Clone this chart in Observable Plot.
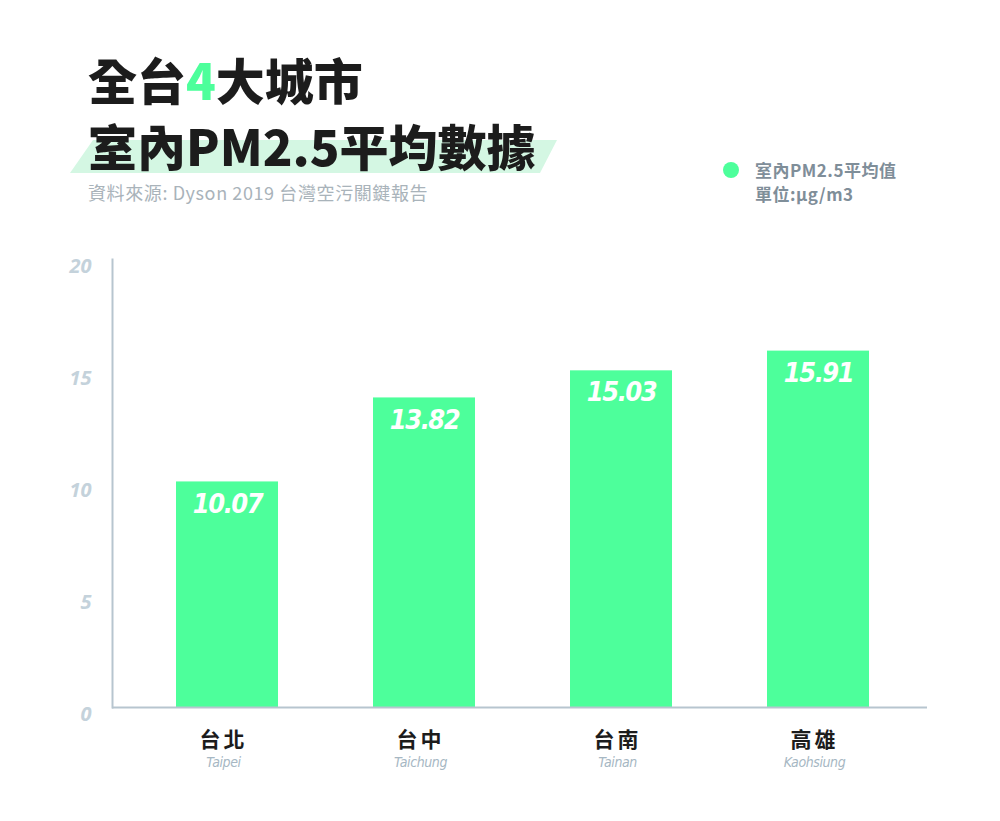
<!DOCTYPE html>
<html>
<head>
<meta charset="utf-8">
<script src="https://cdn.jsdelivr.net/npm/d3@7"></script>
<script src="https://cdn.jsdelivr.net/npm/@observablehq/plot@0.6"></script>
<style>
  html, body { margin: 0; padding: 0; background: #ffffff; }
  #page { position: relative; width: 1000px; height: 821px; overflow: hidden; background: #fff; }
  #header { position: relative; width: 1000px; height: 230px; }
  .cjk { font-family: "Noto Sans CJK TC", "Noto Sans CJK SC", "Noto Sans", sans-serif; }
  .t1, .t2 { position: absolute; left: 88px; font-size: 49px; font-weight: 900; color: #1c1c1c; line-height: 49px; white-space: nowrap; }
  .t1 { top: 54px; }
  .t2 { top: 120px; }
  .green { color: #4dff9b; }
  .sub { position: absolute; left: 88px; top: 181px; font-size: 18px; letter-spacing: 0.6px; line-height: 22px; color: #a9b3ba; white-space: nowrap; }
  .legdot { position: absolute; left: 723px; top: 162px; width: 16px; height: 16px; border-radius: 50%; background: #4dff9b; }
  .leg { position: absolute; left: 755px; font-size: 17px; font-weight: 700; letter-spacing: 0.5px; color: #7f8e99; line-height: 20px; white-space: nowrap; }
  #band { position: absolute; left: 0; top: 0; }
  #chart { position: absolute; left: 0; top: 230px; }
  #chart g[font-size="27"] text { letter-spacing: -1.5px; }
  #chart g[font-size="21"] text { letter-spacing: 3px; }
  #chart g[font-size="14"] text { letter-spacing: -0.4px; }
</style>
</head>
<body>
<div id="page">
  <div id="header" class="cjk">
    <svg id="band" width="1000" height="230"><polygon points="93,140 557,140 540,173 70,173" fill="#d4f7e3"></polygon></svg>
    <div class="t1">全台<span class="green">4</span>大城市</div>
    <div class="t2">室內PM2.5平均數據</div>
    <div class="sub">資料來源: Dyson 2019 台灣空污關鍵報告</div>
    <div class="legdot"></div>
    <div class="leg" style="top:160px">室內PM2.5平均值</div>
    <div class="leg" style="top:184px">單位:µg/m3</div>
  </div>
  <div id="chart"></div>
</div>
<script>
const cities = ["台北", "台中", "台南", "高雄"];
const citiesEn = ["Taipei", "Taichung", "Tainan", "Kaohsiung"];
const values = [10.07, 13.82, 15.03, 15.91];
const yTicks = [0, 5, 10, 15, 20];

const data = cities.map((c, i) => ({city: c, en: citiesEn[i], value: values[i]}));

const numFont = '"Liberation Sans Narrow", "DejaVu Sans Condensed", "Roboto", sans-serif';
const cjkFont = '"Noto Sans CJK TC", "Noto Sans CJK SC", sans-serif';
const axisColor = "#b7c5cf";

const plot = Plot.plot({
  width: 1000,
  height: 591,
  marginLeft: 112,
  marginRight: 73,
  marginTop: 29,
  marginBottom: 114,
  style: {background: "transparent", overflow: "visible"},
  x: {domain: cities, paddingInner: 0.48, paddingOuter: 0.3, align: 0.53, axis: null},
  y: {domain: [0, 20], axis: null},
  marks: [
    Plot.barY(data, {x: "city", y: "value", fill: "#4dff9b"}),
    Plot.ruleY([0], {stroke: axisColor, strokeWidth: 2}),
    Plot.frame({anchor: "left", stroke: axisColor, strokeWidth: 2}),
    Plot.axisY({
      ticks: yTicks, tickSize: 0, tickPadding: 21, label: null, dy: 7,
      fontSize: 20, fontWeight: "bold", fontStyle: "italic",
      fontFamily: '"Open Sans", "Noto Sans", sans-serif', fill: "#c4d2db"
    }),
    Plot.text(data, {
      x: "city", y: "value", text: d => d.value.toFixed(2), dy: 22,
      fill: "#ffffff", fontSize: 27, fontWeight: "bold", fontStyle: "italic",
      fontFamily: numFont
    }),
    Plot.text(data, {
      x: "city", text: "city", frameAnchor: "bottom", dy: 39, dx: -4,
      fill: "#1c1c1c", fontSize: 21, fontWeight: "bold", fontFamily: cjkFont
    }),
    Plot.text(data, {
      x: "city", text: "en", frameAnchor: "bottom", dy: 59, dx: -4,
      fill: "#a6b7c3", fontSize: 14, fontStyle: "italic", fontFamily: numFont
    })
  ]
});
document.getElementById("chart").appendChild(plot);
</script>
</body>
</html>
